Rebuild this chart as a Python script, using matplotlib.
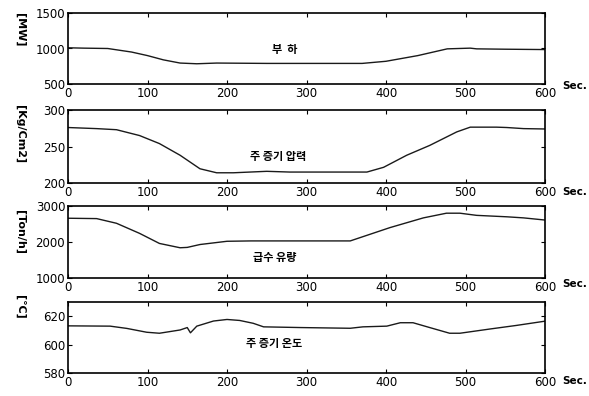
import matplotlib.pyplot as plt

plt.rcParams['font.family'] = ['DejaVu Sans', 'Noto Sans CJK KR']

# 부하 [MW]
t_load = [0, 20, 50, 80, 100, 120, 141, 162, 187, 250, 300, 370, 400, 440, 477, 506, 514, 550, 600]
load = [1010, 1005, 1000, 950, 900, 840, 795, 785, 795, 790, 790, 790, 820, 900, 995, 1005, 995, 990, 985]

# 주 증기 압력 [Kg/Cm2]
t_press = [0, 36, 61, 90, 115, 141, 166, 187, 208, 250, 279, 376, 397, 426, 455, 489, 506, 539, 552, 573, 600]
press = [276, 274.5, 273, 265, 254, 238, 219.5, 214, 214, 216, 215, 215, 221.5, 238, 251.5, 270, 276.5, 276.5, 276, 274.5, 274]

# 급수 유량 [Ton/h]
t_flow = [0, 36, 61, 90, 115, 141, 150, 166, 200, 230, 293, 355, 405, 447, 476, 493, 514, 552, 573, 600]
flow = [2660, 2650, 2520, 2240, 1960, 1840, 1850, 1930, 2020, 2030, 2030, 2030, 2400, 2670, 2800, 2800, 2740, 2700, 2670, 2610]

# 주 증기 온도 [℃]
t_temp = [0, 53, 74, 99, 115, 141, 150, 154, 162, 183, 200, 216, 233, 246, 293, 355, 371, 401, 418, 434, 455, 480, 493, 531, 564, 600]
temp = [613.2, 613, 611.4, 608.7, 608, 610.3, 612, 608.3, 613, 616.6, 617.7, 617, 615, 612.5, 612, 611.5, 612.5, 613, 615.4, 615.4, 612, 608, 608, 611, 613.5, 616.5]

series = [
    (t_load, load, (500, 1500), [500, 1000, 1500], '[MW]', '부  하', (0.455, 0.48), 30),
    (t_press, press, (200, 300), [200, 250, 300], '[Kg/Cm2]', '주 증기 압력', (0.44, 0.36), 134),
    (t_flow, flow, (1000, 3000), [1000, 2000, 3000], '[Ton/h]', '급수 유량', (0.434, 0.28), 232),
    (t_temp, temp, (580, 630), [580, 600, 620], '[℃]', '주 증기 온도', (0.432, 0.42), 307),
]

fig = plt.figure(figsize=(5.89, 3.96), dpi=100)
W, H = 589, 396
boxes = [(13, 84), (110, 183), (206, 278), (302, 373)]
sec_y = [86, 192, 284, 381]

for (t, v, ylim, yticks, ylab, name, npos, ly), (top, bot), sy in zip(series, boxes, sec_y):
    ax = fig.add_axes([68 / W, 1 - bot / H, (545 - 68) / W, (bot - top) / H])
    ax.plot(t, v, color='#1a1a1a', lw=1.0)
    ax.set_xlim(0, 600)
    ax.set_ylim(*ylim)
    ax.set_xticks([0, 100, 200, 300, 400, 500, 600])
    ax.set_yticks(yticks)
    ax.tick_params(direction='in', top=True, right=True, length=3, labelsize=8.5, pad=2)
    for s in ax.spines.values():
        s.set_linewidth(1.2)
    ax.text(npos[0], npos[1], name, transform=ax.transAxes, ha='center', va='center',
            fontsize=8, fontweight='bold', family=['Noto Sans CJK KR', 'DejaVu Sans'])
    fig.text(20 / W, 1 - ly / H, ylab, rotation=270, ha='center', va='center',
             fontsize=8, fontweight='bold')
    fig.text(562 / W, 1 - sy / H, 'Sec.', ha='left', va='center', fontsize=7.5, fontweight='bold')

fig.savefig('out.png', dpi=100)
